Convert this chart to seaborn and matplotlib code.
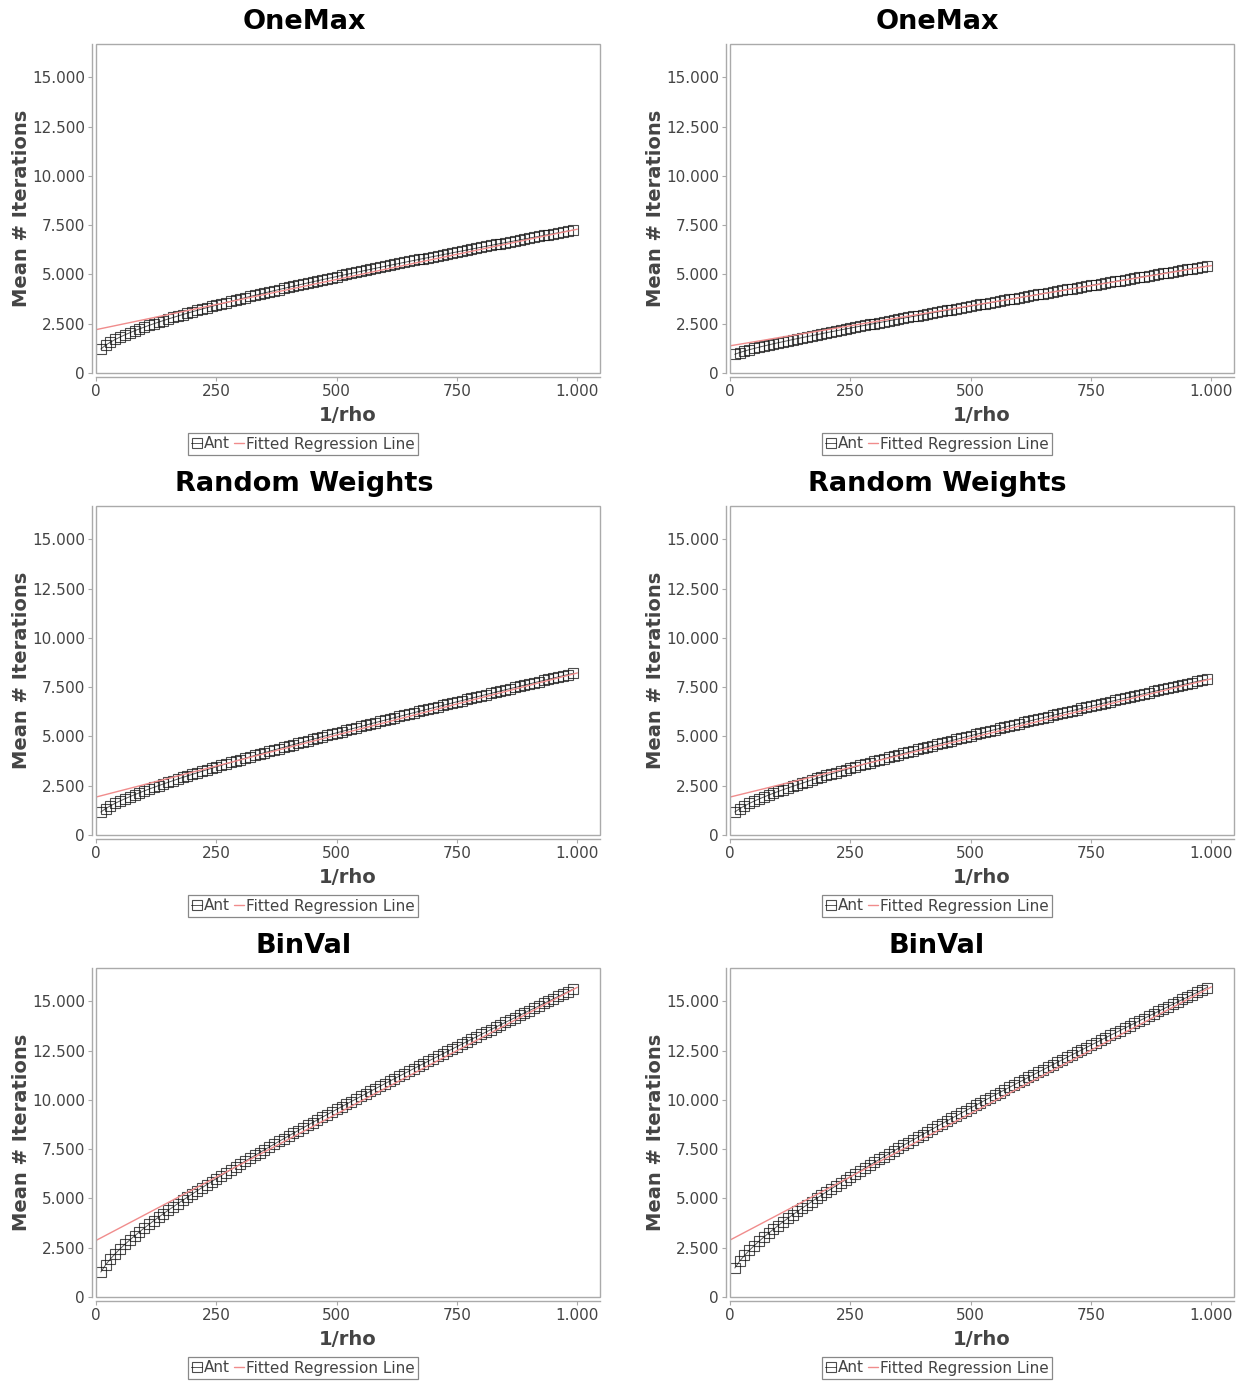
import numpy as np
import pandas as pd
import matplotlib
matplotlib.use("Agg")
import matplotlib.pyplot as plt
from matplotlib.patches import Rectangle
from matplotlib.ticker import FuncFormatter, FixedLocator
import seaborn as sns

sns.set_theme(style="white")
plt.rcParams["font.family"] = ["DejaVu Sans"]

# 1/rho values (x axis)
rho_inv = list(range(10, 1000, 10))

# mean number of iterations
onemax_a = [1216, 1412, 1568, 1703, 1824, 1937, 2042, 2142, 2236, 2328,
            2415, 2500, 2583, 2663, 2741, 2818, 2892, 2966, 3038, 3108,
            3178, 3246, 3314, 3380, 3446, 3511, 3575, 3638, 3700, 3762,
            3824, 3884, 3944, 4004, 4063, 4121, 4179, 4237, 4294, 4351,
            4407, 4463, 4518, 4573, 4628, 4683, 4737, 4790, 4844, 4897,
            4950, 5003, 5055, 5107, 5159, 5210, 5261, 5312, 5363, 5414,
            5464, 5514, 5564, 5614, 5663, 5712, 5762, 5811, 5859, 5908,
            5956, 6004, 6052, 6100, 6148, 6195, 6243, 6290, 6337, 6384,
            6431, 6477, 6524, 6570, 6617, 6663, 6709, 6754, 6800, 6846,
            6891, 6937, 6982, 7027, 7072, 7117, 7161, 7206, 7250]

onemax_b = [950, 1038, 1113, 1182, 1246, 1308, 1367, 1425, 1481, 1536,
            1589, 1642, 1695, 1746, 1797, 1847, 1897, 1946, 1995, 2044,
            2092, 2140, 2187, 2234, 2281, 2328, 2374, 2420, 2466, 2512,
            2558, 2603, 2648, 2693, 2738, 2783, 2827, 2872, 2916, 2960,
            3004, 3048, 3092, 3135, 3179, 3222, 3265, 3309, 3352, 3395,
            3438, 3481, 3523, 3566, 3608, 3651, 3693, 3736, 3778, 3820,
            3862, 3904, 3946, 3988, 4030, 4072, 4114, 4155, 4197, 4239,
            4280, 4322, 4363, 4404, 4446, 4487, 4528, 4569, 4610, 4651,
            4692, 4733, 4774, 4815, 4856, 4897, 4937, 4978, 5019, 5060,
            5100, 5141, 5181, 5222, 5262, 5303, 5343, 5383, 5424]

random_weights_a = [1166, 1340, 1483, 1611, 1729, 1839, 1944, 2045, 2142, 2236,
                    2328, 2417, 2505, 2591, 2675, 2758, 2840, 2921, 3001, 3079,
                    3157, 3234, 3310, 3386, 3461, 3535, 3609, 3682, 3754, 3826,
                    3898, 3969, 4039, 4110, 4179, 4249, 4318, 4387, 4455, 4523,
                    4591, 4658, 4725, 4792, 4859, 4925, 4991, 5057, 5123, 5188,
                    5253, 5318, 5383, 5447, 5512, 5576, 5640, 5704, 5767, 5831,
                    5894, 5957, 6020, 6082, 6145, 6207, 6270, 6332, 6394, 6456,
                    6518, 6579, 6641, 6702, 6763, 6824, 6885, 6946, 7007, 7067,
                    7128, 7188, 7249, 7309, 7369, 7429, 7489, 7549, 7608, 7668,
                    7728, 7787, 7846, 7906, 7965, 8024, 8083, 8142, 8201]

random_weights_b = [1166, 1337, 1477, 1602, 1717, 1824, 1926, 2024, 2118, 2209,
                    2298, 2384, 2469, 2552, 2633, 2713, 2792, 2870, 2947, 3022,
                    3097, 3171, 3244, 3317, 3389, 3460, 3531, 3601, 3670, 3739,
                    3808, 3876, 3943, 4011, 4077, 4144, 4210, 4276, 4341, 4406,
                    4471, 4535, 4599, 4663, 4727, 4790, 4853, 4916, 4979, 5041,
                    5103, 5165, 5227, 5288, 5350, 5411, 5472, 5533, 5593, 5654,
                    5714, 5774, 5834, 5893, 5953, 6012, 6072, 6131, 6190, 6249,
                    6308, 6366, 6425, 6483, 6541, 6599, 6657, 6715, 6773, 6830,
                    6888, 6945, 7003, 7060, 7117, 7174, 7231, 7288, 7344, 7401,
                    7458, 7514, 7570, 7627, 7683, 7739, 7795, 7851, 7907]

binval_a = [1267, 1633, 1934, 2200, 2445, 2674, 2892, 3100, 3301, 3496,
            3685, 3870, 4050, 4227, 4400, 4571, 4739, 4905, 5068, 5229,
            5389, 5546, 5702, 5857, 6010, 6161, 6312, 6461, 6609, 6756,
            6902, 7046, 7190, 7333, 7475, 7617, 7757, 7897, 8036, 8175,
            8312, 8449, 8586, 8722, 8857, 8992, 9126, 9259, 9392, 9525,
            9657, 9789, 9920, 10051, 10181, 10311, 10441, 10570, 10699, 10827,
            10955, 11083, 11210, 11337, 11463, 11590, 11716, 11841, 11967, 12092,
            12216, 12341, 12465, 12589, 12713, 12836, 12959, 13082, 13205, 13327,
            13449, 13572, 13693, 13815, 13936, 14057, 14178, 14299, 14419, 14539,
            14659, 14779, 14899, 15018, 15137, 15256, 15375, 15494, 15613]

binval_b = [1470, 1819, 2108, 2365, 2601, 2824, 3036, 3238, 3434, 3625,
            3810, 3990, 4167, 4341, 4511, 4679, 4844, 5007, 5168, 5327,
            5485, 5640, 5795, 5947, 6099, 6249, 6398, 6545, 6692, 6838,
            6982, 7126, 7269, 7411, 7552, 7693, 7833, 7972, 8110, 8248,
            8385, 8522, 8658, 8793, 8928, 9062, 9196, 9329, 9462, 9595,
            9727, 9858, 9989, 10120, 10250, 10380, 10510, 10639, 10768, 10896,
            11024, 11152, 11279, 11406, 11533, 11660, 11786, 11912, 12038, 12163,
            12288, 12413, 12538, 12662, 12786, 12910, 13034, 13157, 13280, 13403,
            13526, 13648, 13770, 13892, 14014, 14136, 14257, 14379, 14500, 14621,
            14741, 14862, 14982, 15102, 15222, 15342, 15462, 15581, 15700]

titles = ["OneMax", "OneMax", "Random Weights", "Random Weights", "BinVal", "BinVal"]
series = [onemax_a, onemax_b, random_weights_a, random_weights_b, binval_a, binval_b]

# fitted regression line as drawn in each panel (value at 0, slope)
fit_intercept = [2200, 1380, 1926, 1926, 2870, 2890]
fit_slope = [5.10, 4.07, 6.30, 6.00, 12.85, 12.85]

y_ticks = [0, 2500, 5000, 7500, 10000, 12500, 15000]
x_ticks = [0, 250, 500, 750, 1000]

W, H = 1244, 1381
fig = plt.figure(figsize=(W / 100, H / 100), dpi=100)

# layout in pixels
col_left = [96, 730]
row_bottom = [373, 835, 1297]
ax_w, ax_h = 504, 329
title_x = [304, 937]
title_y = [22, 484, 946]
legend_x = [303, 937]
legend_y = [444, 906, 1368]

grey = "#aaaaaa"
txt = "#444444"
dot_fmt = FuncFormatter(lambda v, p: f"{v:,.0f}".replace(",", "."))

for i, (title, vals) in enumerate(zip(titles, series)):
    r, c = divmod(i, 2)
    ax = fig.add_axes([col_left[c] / W, 1 - row_bottom[r] / H, ax_w / W, ax_h / H])

    df = pd.DataFrame({"rho": rho_inv, "iters": vals})
    sns.lineplot(data=df, x="rho", y="iters", ax=ax, color="#222222", lw=0.7,
                 marker="s", ms=7, mfc="none", mec="#111111", mew=0.8,
                 alpha=0.75, label="Ant")

    fit_x = np.array([0, 1000])
    fit_y = fit_intercept[i] + fit_slope[i] * fit_x
    sns.lineplot(x=fit_x, y=fit_y, ax=ax, color="#f08c8c",
                 lw=1.0, label="Fitted Regression Line")

    ax.set_xlim(0, 1047)
    ax.set_ylim(0, 16700)
    ax.xaxis.set_major_locator(FixedLocator(x_ticks))
    ax.yaxis.set_major_locator(FixedLocator(y_ticks))
    ax.xaxis.set_major_formatter(dot_fmt)
    ax.yaxis.set_major_formatter(dot_fmt)

    for side in ["top", "right"]:
        ax.spines[side].set_visible(False)
    for side in ["left", "bottom"]:
        ax.spines[side].set_color(grey)
        ax.spines[side].set_linewidth(1)
        ax.spines[side].set_position(("outward", 3))
    ax.add_patch(Rectangle((0, 0), 1, 1, transform=ax.transAxes, fill=False,
                           ec=grey, lw=1, clip_on=False, zorder=5))

    ax.tick_params(axis="both", direction="out", length=3, width=0.8, color=grey,
                   labelsize=11, labelcolor=txt, pad=2, left=True, bottom=True)

    ax.set_xlabel("1/rho", fontsize=14, fontweight="bold", color=txt)
    ax.set_ylabel("Mean # Iterations", fontsize=14, fontweight="bold", color=txt)
    ax.xaxis.set_label_coords(0.5, -0.1)
    ax.yaxis.set_label_coords(-0.128, 0.5)

    fig.text(title_x[c] / W, 1 - title_y[r] / H, title, ha="center", va="center",
             fontsize=19.5, fontweight="bold", color="black")

    leg = ax.legend(loc="center", bbox_to_anchor=(legend_x[c] / W, 1 - legend_y[r] / H),
                    bbox_transform=fig.transFigure, ncol=2, frameon=True, fancybox=False,
                    edgecolor="#888888", fontsize=11, handlelength=0.7,
                    handletextpad=0.1, columnspacing=0.25, borderpad=0.25,
                    borderaxespad=0, labelcolor=txt, framealpha=1)
    leg.get_frame().set_linewidth(0.9)

fig.savefig("out.png", dpi=100)
